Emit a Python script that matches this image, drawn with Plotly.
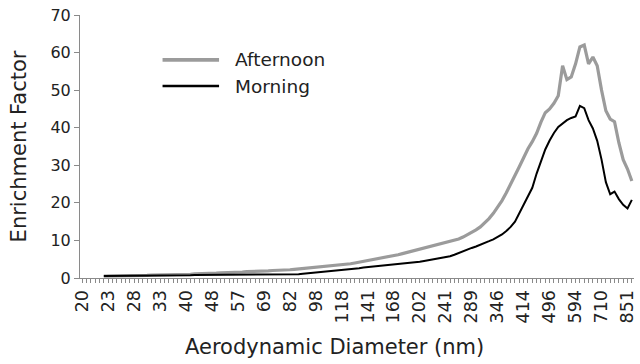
import plotly.graph_objects as go

# ---- data ----
tick_labels = ["20", "23", "28", "33", "40", "48", "57", "69", "82", "98", "118",
               "141", "168", "202", "241", "289", "346", "414", "496", "594", "710", "851"]
label_every = 6          # one labelled bin every 6 size bins
n_bins = 128             # size bins along the axis
first_data_bin = 5

series_names = ["Afternoon", "Morning"]

afternoon = [
    0.5, 0.5, 0.5, 0.6, 0.6, 0.6, 0.6,
    0.7, 0.7, 0.7, 0.7, 0.8, 0.8,
    0.8, 0.8, 0.9, 0.9, 0.9, 1.0, 1.0, 1.0,
    1.1, 1.1, 1.2, 1.2, 1.3, 1.3, 1.4, 1.4,
    1.5, 1.5, 1.6, 1.6, 1.7, 1.7, 1.8, 1.8, 1.9, 1.9,
    2.0, 2.0, 2.1, 2.2, 2.2, 2.3, 2.4,
    2.5, 2.6, 2.7, 2.9, 3.0, 3.1, 3.2, 3.3, 3.4, 3.5,
    3.6, 3.8, 4.0, 4.2, 4.4, 4.6, 4.8, 5.0, 5.2, 5.4,
    5.6, 5.9, 6.2, 6.5, 6.8, 7.0, 7.3, 7.5, 7.8, 8.1,
    8.4, 8.7, 9.0, 9.3, 9.6, 10.0, 10.4, 10.9, 11.5, 12.2,
    12.8, 13.6, 14.6, 15.8, 17.2, 18.8, 20.6, 22.7, 24.9, 27.0,
    29.6, 32.0, 34.4, 36.3, 38.5, 41.5, 44.0, 45.0, 46.5, 48.5,
    56.5, 52.8, 53.5, 57.0, 61.5, 62.0, 57.0, 58.8, 56.5, 50.0,
    44.5, 42.3, 41.6, 36.0, 31.5, 29.0, 25.8,
]

morning = [
    0.5, 0.5, 0.5, 0.5, 0.5, 0.5, 0.5,
    0.6, 0.6, 0.6, 0.6, 0.6, 0.6,
    0.7, 0.7, 0.7, 0.7, 0.7, 0.7, 0.7, 0.7,
    0.8, 0.8, 0.8, 0.8, 0.8, 0.8, 0.8, 0.8,
    0.9, 0.9, 0.9, 0.9, 0.9, 0.9, 0.9, 0.9, 0.9, 0.9,
    1.0, 1.0, 1.0, 1.0, 1.0, 1.0, 1.0,
    1.1, 1.2, 1.3, 1.4, 1.5, 1.6, 1.7, 1.8, 2.0, 2.1,
    2.3, 2.4, 2.5, 2.6, 2.8, 2.9, 3.0, 3.1, 3.2, 3.3,
    3.5, 3.6, 3.7, 3.8, 3.9, 4.0, 4.1, 4.3, 4.5, 4.7,
    4.9, 5.1, 5.3, 5.5, 5.8, 6.2, 6.7, 7.1, 7.6, 8.0,
    8.4, 8.8, 9.3, 9.8, 10.3, 10.9, 11.6, 12.5, 13.6, 15.0,
    17.2, 19.4, 21.8, 24.0, 27.8, 31.2, 34.2, 36.6, 38.6, 40.2,
    41.2, 42.0, 42.6, 43.0, 45.8, 45.2, 42.0, 39.8, 36.5, 31.5,
    25.5, 22.3, 23.0, 21.0, 19.5, 18.5, 20.8,
]

bins = list(range(first_data_bin, first_data_bin + len(afternoon)))
tick_positions = [i * label_every for i in range(len(tick_labels))]

FONT = "DejaVu Sans, Verdana, sans-serif"
TEXT = "#222222"
AXIS_GRAY = "#8a8a8a"
colors = ["#9b9b9b", "#000000"]
widths = [3.2, 2.0]

fig = go.Figure()
for name, vals, c, w in zip(series_names, [afternoon, morning], colors, widths):
    fig.add_trace(go.Scatter(x=bins, y=vals, mode="lines", name=name,
                             line=dict(color=c, width=w)))

# legend drawn inside the plot: long line samples + labels
legend_y = [0.829, 0.730]
for name, c, w, ly in zip(series_names, colors, widths, legend_y):
    fig.add_shape(type="line", xref="paper", yref="paper",
                  x0=0.149, x1=0.251, y0=ly, y1=ly,
                  line=dict(color=c, width=w + 0.6))
    fig.add_annotation(xref="paper", yref="paper", x=0.276, y=ly,
                       xanchor="left", yanchor="middle", showarrow=False,
                       text=name, font=dict(size=18.5, family=FONT, color=TEXT))

# x-axis title (centred slightly left of the plot centre, as in the original)
fig.add_annotation(xref="paper", yref="paper", x=0.46, y=-0.262,
                   xanchor="center", yanchor="middle", showarrow=False,
                   text="Aerodynamic Diameter (nm)",
                   font=dict(size=21, family=FONT, color=TEXT))

fig.update_layout(
    width=640, height=364,
    margin=dict(l=80, r=3, t=15, b=86),
    paper_bgcolor="white", plot_bgcolor="white",
    font=dict(family=FONT, color=TEXT),
    showlegend=False,
)

fig.update_xaxes(
    range=[-0.5, n_bins - 0.5],
    tickmode="array", tickvals=tick_positions, ticktext=tick_labels,
    tickangle=-90, ticklabeloverflow="allow",
    tickfont=dict(size=17.5, family=FONT, color=TEXT),
    ticks="outside", ticklen=4, tickcolor=AXIS_GRAY, tickwidth=1,
    minor=dict(tickmode="linear", tick0=0, dtick=1, ticks="outside",
               ticklen=4, tickcolor=AXIS_GRAY, tickwidth=1),
    showline=True, linecolor=AXIS_GRAY, linewidth=1,
    showgrid=False, zeroline=False,
)

fig.update_yaxes(
    range=[0, 70], tickmode="linear", tick0=0, dtick=10,
    tickfont=dict(size=16, family=FONT, color=TEXT),
    ticks="outside", ticklen=5, tickcolor=AXIS_GRAY, tickwidth=1,
    showline=True, linecolor=AXIS_GRAY, linewidth=1,
    showgrid=False, zeroline=False,
    title=dict(text="Enrichment Factor",
               font=dict(size=21, family=FONT, color=TEXT), standoff=18),
)

fig.write_html("out.html")
